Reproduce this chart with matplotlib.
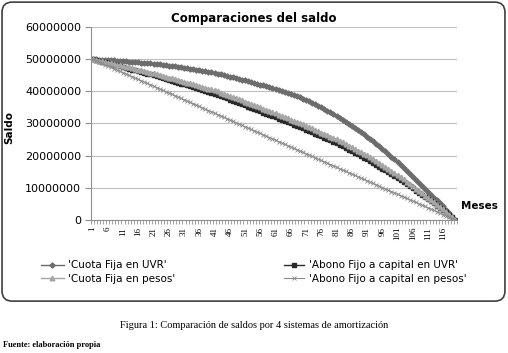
import numpy as np
import matplotlib.pyplot as plt
from matplotlib.patches import FancyBboxPatch
from matplotlib.ticker import FixedLocator

# saldo en millones de pesos, mes 1..120
meses = list(range(1, 121))

cuota_fija_uvr = [
    50.00, 49.95, 49.89, 49.84, 49.78, 49.73, 49.67, 49.62, 49.56, 49.50,
    49.42, 49.34, 49.25, 49.17, 49.09, 49.01, 48.93, 48.85, 48.76, 48.68,
    48.60, 48.48, 48.36, 48.24, 48.12, 48.00, 47.88, 47.76, 47.64, 47.52,
    47.40, 47.23, 47.06, 46.89, 46.72, 46.55, 46.38, 46.21, 46.04, 45.87,
    45.70, 45.47, 45.24, 45.01, 44.78, 44.55, 44.32, 44.09, 43.86, 43.63,
    43.40, 43.14, 42.87, 42.61, 42.35, 42.08, 41.82, 41.55, 41.29, 41.03,
    40.76, 40.50, 40.20, 39.89, 39.56, 39.21, 38.86, 38.48, 38.10, 37.70,
    37.28, 36.85, 36.41, 35.95, 35.47, 34.99, 34.48, 33.97, 33.43, 32.89,
    32.33, 31.75, 31.16, 30.56, 29.94, 29.31, 28.66, 28.00, 27.32, 26.63,
    25.92, 25.20, 24.46, 23.70, 22.93, 22.14, 21.34, 20.52, 19.68, 18.83,
    17.96, 17.08, 16.18, 15.27, 14.35, 13.44, 12.53, 11.61, 10.70, 9.78,
    8.85, 7.92, 6.99, 6.06, 5.13, 4.20, 3.15, 2.10, 1.05, 0.00]

abono_fijo_uvr = [
    50.00, 49.76, 49.51, 49.27, 49.03, 48.77, 48.53, 48.29, 48.04, 47.80,
    47.54, 47.30, 47.04, 46.78, 46.52, 46.28, 46.02, 45.76, 45.50, 45.26,
    45.00, 44.71, 44.43, 44.14, 43.86, 43.57, 43.29, 43.00, 42.72, 42.43,
    42.15, 41.85, 41.56, 41.26, 40.97, 40.67, 40.38, 40.08, 39.79, 39.49,
    39.20, 38.85, 38.49, 38.14, 37.78, 37.42, 37.06, 36.71, 36.35, 36.00,
    35.63, 35.26, 34.89, 34.52, 34.15, 33.78, 33.41, 33.04, 32.67, 32.30,
    31.92, 31.54, 31.16, 30.78, 30.40, 30.02, 29.64, 29.26, 28.88, 28.50,
    28.08, 27.66, 27.25, 26.83, 26.41, 25.99, 25.57, 25.15, 24.74, 24.32,
    23.90, 23.40, 22.90, 22.40, 21.90, 21.40, 20.90, 20.40, 19.90, 19.40,
    18.90, 18.40, 17.80, 17.20, 16.60, 16.00, 15.40, 14.80, 14.20, 13.60,
    13.00, 12.40, 11.80, 11.14, 10.47, 9.81, 9.14, 8.48, 7.81, 7.15,
    6.48, 5.82, 5.15, 4.48, 3.82, 3.15, 2.37, 1.57, 0.79, 0.00]

cuota_fija_pesos = [
    50.00, 49.79, 49.58, 49.37, 49.16, 48.94, 48.73, 48.52, 48.31, 48.10,
    47.87, 47.65, 47.42, 47.19, 46.96, 46.74, 46.51, 46.28, 46.05, 45.83,
    45.60, 45.34, 45.08, 44.82, 44.56, 44.30, 44.04, 43.78, 43.52, 43.26,
    43.00, 42.73, 42.46, 42.19, 41.92, 41.65, 41.38, 41.11, 40.84, 40.57,
    40.30, 39.96, 39.61, 39.27, 38.92, 38.58, 38.23, 37.89, 37.54, 37.20,
    36.83, 36.46, 36.09, 35.72, 35.35, 34.98, 34.61, 34.24, 33.87, 33.50,
    33.12, 32.74, 32.36, 31.98, 31.60, 31.22, 30.84, 30.46, 30.08, 29.70,
    29.28, 28.86, 28.45, 28.03, 27.61, 27.19, 26.77, 26.35, 25.94, 25.52,
    25.10, 24.60, 24.10, 23.60, 23.10, 22.60, 22.10, 21.60, 21.10, 20.60,
    20.10, 19.60, 18.96, 18.33, 17.69, 17.05, 16.42, 15.78, 15.15, 14.51,
    13.87, 13.24, 12.60, 11.89, 11.17, 10.46, 9.74, 9.03, 8.31, 7.60,
    6.88, 6.17, 5.45, 4.73, 4.02, 3.30, 2.48, 1.65, 0.83, 0.00]

abono_fijo_pesos = [
    50.00, 49.58, 49.16, 48.74, 48.32, 47.90, 47.48, 47.06, 46.64, 46.22,
    45.80, 45.38, 44.96, 44.54, 44.12, 43.70, 43.28, 42.86, 42.44, 42.02,
    41.60, 41.18, 40.76, 40.34, 39.92, 39.50, 39.08, 38.66, 38.24, 37.82,
    37.40, 36.98, 36.56, 36.14, 35.72, 35.30, 34.88, 34.46, 34.04, 33.62,
    33.20, 32.78, 32.36, 31.94, 31.52, 31.10, 30.68, 30.26, 29.84, 29.42,
    29.00, 28.58, 28.16, 27.74, 27.32, 26.90, 26.48, 26.06, 25.64, 25.22,
    24.80, 24.38, 23.96, 23.54, 23.12, 22.70, 22.28, 21.86, 21.44, 21.02,
    20.60, 20.18, 19.76, 19.34, 18.92, 18.50, 18.08, 17.66, 17.24, 16.82,
    16.40, 15.98, 15.56, 15.14, 14.72, 14.30, 13.88, 13.46, 13.04, 12.62,
    12.20, 11.78, 11.36, 10.94, 10.52, 10.10, 9.68, 9.26, 8.84, 8.42,
    8.00, 7.58, 7.16, 6.74, 6.32, 5.90, 5.48, 5.06, 4.64, 4.22,
    3.80, 3.38, 2.96, 2.54, 2.12, 1.70, 1.28, 0.86, 0.44, 0.00]

yticks = [0, 10000000, 20000000, 30000000, 40000000, 50000000, 60000000]
xticks = list(range(1, 117, 5))

fig = plt.figure(figsize=(5.08, 3.53), dpi=100)
fig.patch.set_facecolor('white')

# marco redondeado del grafico
frame = FancyBboxPatch((0.004, 0.147), 0.990, 0.847, transform=fig.transFigure,
                       boxstyle='round,pad=0,rounding_size=0.02', mutation_aspect=508 / 353,
                       facecolor='none', edgecolor='#404040', linewidth=1.2, zorder=0)
fig.patches.append(frame)

ax = fig.add_axes([0.1791, 0.3768, 0.7205, 0.5467])
ax.set_facecolor('none')

m = np.array(meses)
l1, = ax.plot(m, np.array(cuota_fija_uvr) * 1e6, color='#6c6c6c', marker='D', markersize=2.6,
              linewidth=1, label="'Cuota Fija en UVR'")
l2, = ax.plot(m, np.array(abono_fijo_uvr) * 1e6, color='#2a2a2a', marker='s', markersize=2.5,
              linewidth=1, label="'Abono Fijo a capital en UVR'")
l3, = ax.plot(m, np.array(cuota_fija_pesos) * 1e6, color='#a6a6a6', marker='^', markersize=3.4,
              linewidth=1, label="'Cuota Fija en pesos'")
l4, = ax.plot(m, np.array(abono_fijo_pesos) * 1e6, color='#8c8c8c', marker='x', markersize=3,
              markeredgewidth=0.6, linewidth=0.8, label="'Abono Fijo a capital en pesos'")

ax.set_xlim(0.5, 120.5)
ax.set_ylim(0, 60000000)
ax.set_yticks(yticks)
ax.set_yticklabels([str(v) for v in yticks], fontsize=8, family='DejaVu Sans')
ax.set_xticks(xticks)
ax.set_xticklabels([str(v) for v in xticks], rotation=90, fontsize=6.5, family='Liberation Serif')
ax.xaxis.set_minor_locator(FixedLocator(np.arange(0.5, 121, 1)))
ax.tick_params(axis='x', which='major', length=0, pad=5)
ax.tick_params(axis='x', which='minor', length=3, color='#909090', width=0.6)
ax.tick_params(axis='y', length=4, color='#909090', width=0.8, pad=3)

ax.grid(axis='y', color='#c0c0c0', linewidth=0.8)
ax.set_axisbelow(True)
for s in ['top', 'right']:
    ax.spines[s].set_visible(False)
ax.spines['left'].set_color('#909090')
ax.spines['bottom'].set_color('#909090')

fig.text(0.5, 0.948, 'Comparaciones del saldo', ha='center', va='center',
         fontsize=8.5, fontweight='bold', family='DejaVu Sans')
fig.text(0.018, 0.64, 'Saldo', rotation=90, ha='center', va='center',
         fontsize=7.5, fontweight='bold', family='DejaVu Sans')
fig.text(0.908, 0.416, 'Meses', ha='left', va='center',
         fontsize=7.5, fontweight='bold', family='DejaVu Sans')

leg1 = fig.legend([l1, l3], [l1.get_label(), l3.get_label()], loc='upper left',
                  bbox_to_anchor=(0.07, 0.277), frameon=False, fontsize=7.5,
                  handlelength=2.2, handletextpad=0.4, labelspacing=0.3, borderpad=0)
leg2 = fig.legend([l2, l4], [l2.get_label(), l4.get_label()], loc='upper left',
                  bbox_to_anchor=(0.548, 0.277), frameon=False, fontsize=7.5,
                  handlelength=2.0, handletextpad=0.4, labelspacing=0.3, borderpad=0)

fig.text(0.5, 0.077, 'Figura 1: Comparación de saldos por 4 sistemas de amortización',
         ha='center', va='center', fontsize=7.5, family='Liberation Serif')
fig.text(0.006, 0.022, 'Fuente: elaboración propia', ha='left', va='center',
         fontsize=6, fontweight='bold', family='Liberation Serif')

fig.savefig('out.png', dpi=100)
